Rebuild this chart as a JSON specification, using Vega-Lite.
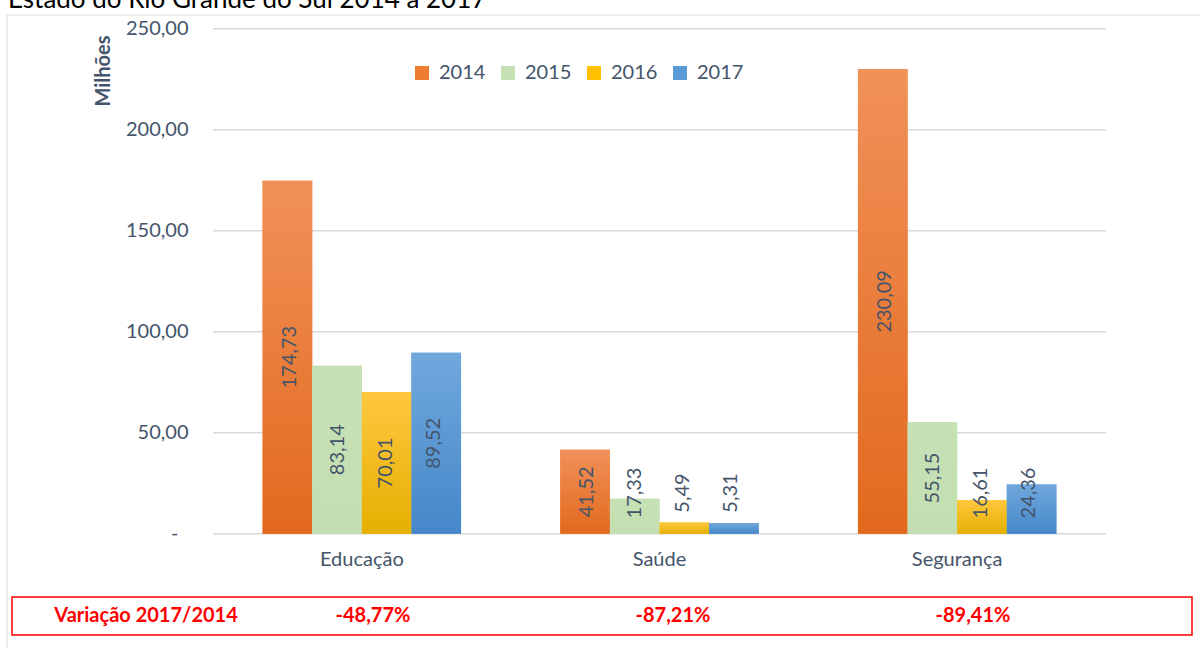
{
  "$schema": "https://vega.github.io/schema/vega-lite/v6.json",
  "autosize": "none",
  "padding": {"left": 7, "top": 15, "right": 0, "bottom": 0},
  "width": 1193,
  "height": 633,
  "data": {
    "values": [
      {"categoria": "Educação", "ano": "2014", "valor": 174.73},
      {"categoria": "Educação", "ano": "2015", "valor": 83.14},
      {"categoria": "Educação", "ano": "2016", "valor": 70.01},
      {"categoria": "Educação", "ano": "2017", "valor": 89.52},
      {"categoria": "Saúde", "ano": "2014", "valor": 41.52},
      {"categoria": "Saúde", "ano": "2015", "valor": 17.33},
      {"categoria": "Saúde", "ano": "2016", "valor": 5.49},
      {"categoria": "Saúde", "ano": "2017", "valor": 5.31},
      {"categoria": "Segurança", "ano": "2014", "valor": 230.09},
      {"categoria": "Segurança", "ano": "2015", "valor": 55.15},
      {"categoria": "Segurança", "ano": "2016", "valor": 16.61},
      {"categoria": "Segurança", "ano": "2017", "valor": 24.36}
    ]
  },
  "layer": [
    {
      "data": {"values": [{}]},
      "mark": {"type": "rect", "fillOpacity": 0, "stroke": "#D9D9D9", "strokeWidth": 1},
      "encoding": {
        "x": {"datum": 0, "type": "quantitative", "scale": {"domain": [0, 1], "range": [0, 1300]}, "axis": null},
        "x2": {"datum": 1},
        "y": {"datum": 0, "type": "quantitative", "scale": {"domain": [0, 1], "range": [0, 700]}, "axis": null},
        "y2": {"datum": 1}
      }
    },
    {
      "data": {"values": [{"titulo": "Estado do Rio Grande do Sul 2014 a 2017"}]},
      "mark": {"type": "text", "fontSize": 26, "color": "#000000", "font": "Lato", "align": "left", "baseline": "alphabetic"},
      "encoding": {
        "x": {"datum": 0, "type": "quantitative", "scale": {"domain": [0, 1], "range": [1, 1000]}, "axis": null},
        "y": {"datum": 0, "type": "quantitative", "scale": {"domain": [0, 1], "range": [-7, 0]}, "axis": null},
        "text": {"field": "titulo", "type": "nominal"}
      }
    },
    {
      "data": {"values": [{"g": 0}, {"g": 50}, {"g": 100}, {"g": 150}, {"g": 200}, {"g": 250}]},
      "mark": {"type": "rule", "color": "#D9D9D9", "strokeWidth": 1.5},
      "encoding": {
        "y": {"field": "g", "type": "quantitative", "scale": {"domain": [0, 250], "range": [518.7, 13.7], "nice": false, "zero": false}, "axis": null},
        "x": {"datum": 0, "type": "quantitative", "scale": {"domain": [0, 1], "range": [206, 1099]}, "axis": null},
        "x2": {"datum": 1}
      }
    },
    {
      "mark": {"type": "bar"},
      "encoding": {
        "x": {
          "field": "categoria", "type": "nominal", "sort": ["Educação", "Saúde", "Segurança"],
          "scale": {"range": [206, 1099], "paddingInner": 0, "paddingOuter": 0},
          "axis": {"orient": "bottom", "offset": -114.3, "title": null, "domain": false, "ticks": false, "tickSize": 0, "labelAngle": 0, "labelPadding": 16, "labelFontSize": 20, "labelColor": "#44546A", "labelFont": "Lato"}
        },
        "xOffset": {"field": "ano", "type": "nominal", "scale": {"paddingOuter": 1.1, "paddingInner": 0}},
        "y": {
          "field": "valor", "type": "quantitative",
          "scale": {"domain": [0, 250], "range": [518.7, 13.7], "nice": false, "zero": false},
          "axis": {
            "offset": -206, "values": [0, 50, 100, 150, 200, 250], "format": ".2f",
            "labelExpr": "datum.value === 0 ? '-' : datum.label",
            "domain": false, "ticks": false, "tickSize": 0, "grid": false,
            "labelPadding": {"condition": {"test": "datum.value === 0", "value": 35}, "value": 25},
            "labelFontSize": 20, "labelColor": "#44546A", "labelFont": "Lato",
            "title": "Milhões", "titleFontSize": 20, "titleFontWeight": "bold", "titleColor": "#44546A", "titleFont": "Lato",
            "titleAngle": 270, "titleX": -109.5, "titleY": 20, "titleAlign": "right", "titleBaseline": "middle"
          }
        },
        "fill": {
          "field": "ano", "type": "nominal",
          "scale": {"domain": ["2014", "2015", "2016", "2017"], "range": ["#ED7D31", "#C5E0B4", "#FFC000", "#5B9BD5"]},
          "legend": {
            "title": null, "orient": "none", "legendX": 405, "legendY": 48, "direction": "horizontal",
            "symbolType": "square", "symbolSize": 196, "symbolStrokeWidth": 0,
            "labelFontSize": 20, "labelColor": "#44546A", "labelFont": "Lato", "labelOffset": 7, "columnPadding": 12
          }
        }
      }
    },
    {
      "mark": {"type": "bar"},
      "encoding": {
        "x": {"field": "categoria", "type": "nominal", "sort": ["Educação", "Saúde", "Segurança"], "scale": {"range": [206, 1099], "paddingInner": 0, "paddingOuter": 0}, "axis": null},
        "xOffset": {"field": "ano", "type": "nominal", "scale": {"paddingOuter": 1.1, "paddingInner": 0}},
        "y": {"field": "valor", "type": "quantitative", "scale": {"domain": [0, 250], "range": [518.7, 13.7], "nice": false, "zero": false}, "axis": null},
        "fill": {
          "condition": [
            {"test": "datum.ano === '2014'", "value": {"gradient": "linear", "x1": 0, "y1": 0, "x2": 0, "y2": 1, "stops": [{"offset": 0, "color": "#F19159"}, {"offset": 1, "color": "#E2691D"}]}},
            {"test": "datum.ano === '2015'", "value": {"gradient": "linear", "x1": 0, "y1": 0, "x2": 0, "y2": 1, "stops": [{"offset": 0, "color": "#C7E1B6"}, {"offset": 1, "color": "#C3DFB1"}]}},
            {"test": "datum.ano === '2016'", "value": {"gradient": "linear", "x1": 0, "y1": 0, "x2": 0, "y2": 1, "stops": [{"offset": 0, "color": "#FFC73F"}, {"offset": 1, "color": "#E4B000"}]}}
          ],
          "value": {"gradient": "linear", "x1": 0, "y1": 0, "x2": 0, "y2": 1, "stops": [{"offset": 0, "color": "#70A8DD"}, {"offset": 1, "color": "#4587C9"}]}
        }
      }
    },
    {
      "transform": [{"filter": "datum.ano === '2014'"}],
      "mark": {"type": "text", "angle": 270, "fontSize": 20, "color": "#44546A", "font": "Lato", "align": "center", "baseline": "middle"},
      "encoding": {
        "x": {"field": "categoria", "type": "nominal", "sort": ["Educação", "Saúde", "Segurança"], "scale": {"range": [133.95, 1026.95], "paddingInner": 0, "paddingOuter": 0}, "axis": null},
        "y": {"field": "valor", "type": "quantitative", "scale": {"domain": [40.3, 250], "range": [478, 266.2], "clamp": true, "nice": false, "zero": false}, "axis": null},
        "text": {"field": "valor", "type": "quantitative", "format": ".2f"}
      }
    },
    {
      "transform": [{"filter": "datum.ano === '2015'"}],
      "mark": {"type": "text", "angle": 270, "fontSize": 20, "color": "#44546A", "font": "Lato", "align": "center", "baseline": "middle"},
      "encoding": {
        "x": {"field": "categoria", "type": "nominal", "sort": ["Educação", "Saúde", "Segurança"], "scale": {"range": [181.95, 1074.95], "paddingInner": 0, "paddingOuter": 0}, "axis": null},
        "y": {"field": "valor", "type": "quantitative", "scale": {"domain": [40.3, 250], "range": [478, 266.2], "clamp": true, "nice": false, "zero": false}, "axis": null},
        "text": {"field": "valor", "type": "quantitative", "format": ".2f"}
      }
    },
    {
      "transform": [{"filter": "datum.ano === '2016'"}],
      "mark": {"type": "text", "angle": 270, "fontSize": 20, "color": "#44546A", "font": "Lato", "align": "center", "baseline": "middle"},
      "encoding": {
        "x": {"field": "categoria", "type": "nominal", "sort": ["Educação", "Saúde", "Segurança"], "scale": {"range": [229.95, 1122.95], "paddingInner": 0, "paddingOuter": 0}, "axis": null},
        "y": {"field": "valor", "type": "quantitative", "scale": {"domain": [40.3, 250], "range": [478, 266.2], "clamp": true, "nice": false, "zero": false}, "axis": null},
        "text": {"field": "valor", "type": "quantitative", "format": ".2f"}
      }
    },
    {
      "transform": [{"filter": "datum.ano === '2017'"}],
      "mark": {"type": "text", "angle": 270, "fontSize": 20, "color": "#44546A", "font": "Lato", "align": "center", "baseline": "middle"},
      "encoding": {
        "x": {"field": "categoria", "type": "nominal", "sort": ["Educação", "Saúde", "Segurança"], "scale": {"range": [277.95, 1170.95], "paddingInner": 0, "paddingOuter": 0}, "axis": null},
        "y": {"field": "valor", "type": "quantitative", "scale": {"domain": [40.3, 250], "range": [478, 266.2], "clamp": true, "nice": false, "zero": false}, "axis": null},
        "text": {"field": "valor", "type": "quantitative", "format": ".2f"}
      }
    },
    {
      "data": {"values": [{}]},
      "mark": {"type": "rect", "fillOpacity": 0, "stroke": "#FF0000", "strokeWidth": 1.5},
      "encoding": {
        "x": {"datum": 0, "type": "quantitative", "scale": {"domain": [0, 1], "range": [5, 1185]}, "axis": null},
        "x2": {"datum": 1},
        "y": {"datum": 0, "type": "quantitative", "scale": {"domain": [0, 1], "range": [582, 620]}, "axis": null},
        "y2": {"datum": 1}
      }
    },
    {
      "data": {"values": [{"rotulo": "Variação 2017/2014"}]},
      "mark": {"type": "text", "fontSize": 20, "fontWeight": "bold", "color": "#FF0000", "font": "Lato", "align": "center", "baseline": "middle"},
      "encoding": {
        "x": {"datum": 0.1136, "type": "quantitative", "scale": {"domain": [0, 1], "range": [5, 1185]}, "axis": null},
        "y": {"datum": 0.5, "type": "quantitative", "scale": {"domain": [0, 1], "range": [582, 620]}, "axis": null},
        "text": {"field": "rotulo", "type": "nominal"}
      }
    },
    {
      "data": {"values": [
        {"categoria": "Educação", "variacao": -0.4877},
        {"categoria": "Saúde", "variacao": -0.8721},
        {"categoria": "Segurança", "variacao": -0.8941}
      ]},
      "mark": {"type": "text", "fontSize": 20, "fontWeight": "bold", "color": "#FF0000", "font": "Lato", "align": "center", "baseline": "middle"},
      "encoding": {
        "x": {"field": "categoria", "type": "nominal", "sort": ["Educação", "Saúde", "Segurança"], "scale": {"range": [216, 1116], "paddingInner": 0, "paddingOuter": 0}, "axis": null},
        "y": {"datum": 0.5, "type": "quantitative", "scale": {"domain": [0, 1], "range": [582, 620]}, "axis": null},
        "text": {"field": "variacao", "type": "quantitative", "format": ".2%"}
      }
    }
  ],
  "resolve": {"scale": {"x": "independent", "y": "independent", "xOffset": "independent"}},
  "config": {
    "font": "Lato",
    "view": {"stroke": null},
    "locale": {"number": {"decimal": ",", "thousands": ".", "grouping": [3], "currency": ["R$", ""], "minus": "-"}}
  }
}
